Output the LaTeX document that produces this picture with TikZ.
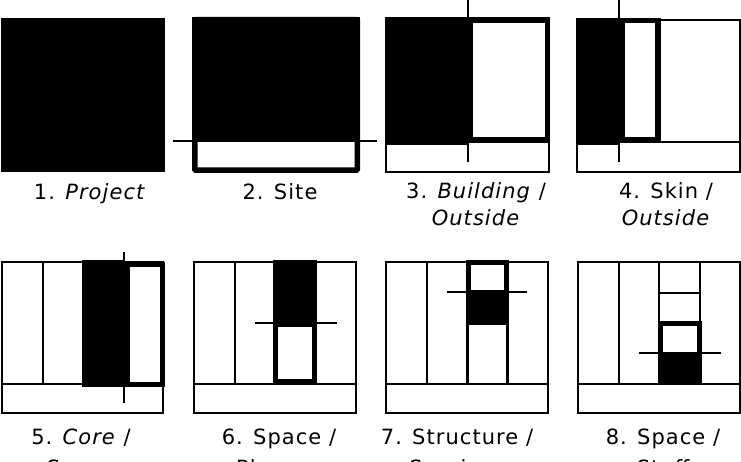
\documentclass[tikz,border=0pt]{standalone}
\usepackage{fontspec}
\setmainfont{DejaVu Sans}[LetterSpace=5]
\begin{document}
\begin{tikzpicture}[x=1pt,y=-1pt,
  thinb/.style={line width=2pt},
  thickb/.style={line width=5.5pt},
  divl/.style={line width=2.6pt},
  crossl/.style={line width=1.6pt},
  lbl/.style={anchor=base,align=center,inner sep=0pt,font=\fontsize{21}{27}\selectfont},
  lbltwo/.style={anchor=base,align=center,inner sep=0pt,font=\fontsize{21}{31}\selectfont}]
\clip (0,0) rectangle (741,462);
\fill[white] (0,0) rectangle (741,462);
% ---------- Panel 1
\fill (1,18) rectangle (165,172);
% ---------- Panel 2
\draw[crossl] (173,141) -- (377,141);
\fill (192,17) rectangle (360,142);
\draw[thickb,rounded corners=1pt] (194.75,19.75) rectangle (357.25,170.25);
% ---------- Panel 3
\draw[thinb] (386,18) rectangle (549,172);
\draw[thinb] (386,142) -- (549,142);
\fill (385,17) rectangle (468,145);
\draw[thickb] (470.5,20.5) rectangle (547.5,139.5);
\draw[divl] (468,0) -- (468,162);
% ---------- Panel 4
\draw[thinb] (577,20) rectangle (739.5,172);
\draw[thinb] (577,142) -- (739.5,142);
\fill (576,18) rectangle (620,145);
\draw[thickb] (622,20.5) rectangle (658,140);
\draw[crossl] (619,0) -- (619,162);
% ---------- Panel 5
\draw[thinb] (2,262) rectangle (163,413);
\draw[thinb] (2,384) -- (163,384);
\draw[divl] (43,262) -- (43,384);
\fill (82,260) rectangle (125,387);
\draw[thickb] (127.5,264.5) rectangle (162.5,384.5);
\draw[crossl] (124,252) -- (124,403);
% ---------- Panel 6
\draw[thinb] (194,262) rectangle (356,413);
\draw[thinb] (194,384) -- (356,384);
\draw[divl] (235,262) -- (235,384);
\draw[crossl] (255,323) -- (337,323);
\fill (273,260) rectangle (317,325);
\draw[thickb] (275.5,324) rectangle (314.5,381.5);
% ---------- Panel 7
\draw[thinb] (386,262) rectangle (548,413);
\draw[thinb] (386,384) -- (548,384);
\draw[divl] (427,262) -- (427,384);
\draw[line width=3pt] (467.5,262) -- (467.5,384);
\draw[line width=3pt] (507.5,262) -- (507.5,384);
\draw[crossl] (447,292) -- (527,292);
\fill (466,290) rectangle (509,325);
\draw[thickb] (468.5,262.5) rectangle (506.5,322.5);
% ---------- Panel 8
\draw[thinb] (578,262) rectangle (740,413);
\draw[thinb] (578,384) -- (740,384);
\draw[divl] (619,262) -- (619,384);
\draw[divl] (659,262) -- (659,322);
\draw[divl] (700,262) -- (700,322);
\draw[divl] (659,293) -- (700,293);
\draw[crossl] (639,353) -- (721,353);
\fill (658,352) rectangle (702,384);
\draw[thickb] (660.5,323.5) rectangle (699.5,382);
% ---------- Labels
\node[lbl] (l1) at (90,200) {1. \textit{Project}};
\node[lbl] (l2) at (280,200) {2. Site};
\node[lbl] (l3) at (476,226) {3. \textit{Building} /\\\textit{Outside}};
\node[lbl] (l4) at (666,226) {4. Skin /\\\textit{Outside}};
\node[lbltwo] (l5) at (81,475) {5. \textit{Core} /\\Space};
\node[lbltwo] (l6) at (279,475) {6. Space /\\Planner};
\node[lbltwo] (l7) at (457,475) {7. Structure /\\Services};
\node[lbltwo] (l8) at (663,475) {8. Space /\\Stuff};
\end{tikzpicture}
\end{document}
